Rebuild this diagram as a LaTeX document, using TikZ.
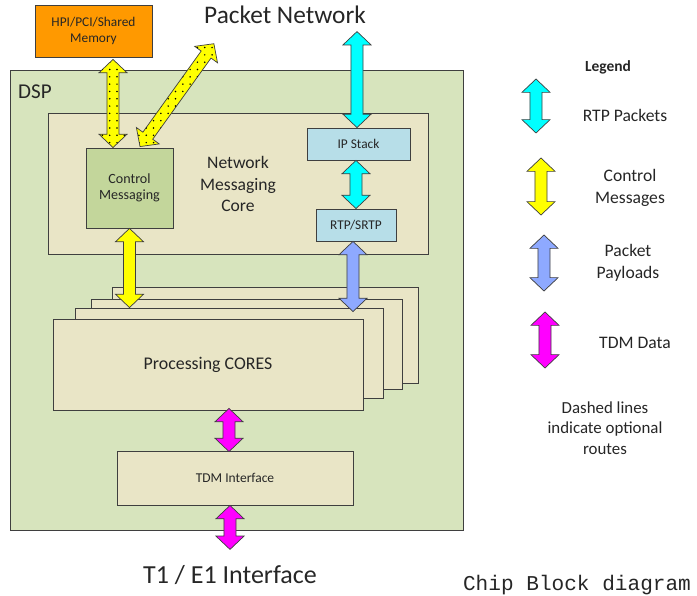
\documentclass[tikz,border=0pt]{standalone}
\usepackage{fontspec}
\setmainfont{Carlito}
\setmonofont{Liberation Mono}
\usetikzlibrary{calc, patterns.meta}

\definecolor{dspgreen}{HTML}{D7E4BD}
\definecolor{coretan}{HTML}{E9E5C6}
\definecolor{ctrlgreen}{HTML}{C3D69B}
\definecolor{stackblue}{HTML}{B7DEE8}
\definecolor{hostorange}{HTML}{FF9900}
\definecolor{rtpcyan}{HTML}{00FFFF}
\definecolor{ctlyellow}{HTML}{FFFF00}
\definecolor{payblue}{HTML}{8EA9FF}
\definecolor{tdmpink}{HTML}{FF00FF}
\definecolor{edgegray}{HTML}{3F3F3F}

\newcommand{\arrowhw}{10pt}
\newcommand{\arrowsw}{4.3pt}
\newcommand{\arrowhl}{9.5pt}

% fat two-headed arrow from #2 to #3
\newcommand{\fatarrow}[3][]{%
    \draw [fatline, #1] let \p1 = #2, \p2 = #3,
        \n1 = {atan2(\y2 - \y1, \x2 - \x1)}, \n2 = {veclen(\x2 - \x1, \y2 - \y1)} in
        {[shift = {(\p1)}, rotate = \n1]
        (0, 0) -- (\arrowhl, \arrowhw) -- (\arrowhl, \arrowsw) -- (\n2 - \arrowhl, \arrowsw)
        -- (\n2 - \arrowhl, \arrowhw) -- (\n2, 0) -- (\n2 - \arrowhl, -\arrowhw)
        -- (\n2 - \arrowhl, -\arrowsw) -- (\arrowhl, -\arrowsw) -- (\arrowhl, -\arrowhw) -- cycle};%
}

\tikzset{
    block/.style = {draw = edgegray, line width = 0.6pt, inner sep = 0pt, align = center, text = black!85},
    txt/.style = {inner sep = 0pt, align = center, text = black!85},
    fatline/.style = {draw = edgegray, line width = 0.5pt},
    rtpflow/.style = {fatline, fill = rtpcyan},
    ctlflow/.style = {fatline, fill = ctlyellow},
    optflow/.style = {ctlflow, postaction = {pattern = {Dots[distance = 5.2pt, radius = 0.6pt]}}},
    payflow/.style = {fatline, fill = payblue},
    tdmflow/.style = {fatline, fill = tdmpink}
}

\begin{document}
\begin{tikzpicture}[x = 0.025cm, y = -0.025cm]
    \useasboundingbox (0, 0) rectangle (697, 596);

    % chip
    \node (dsp) at (236.5, 300) [block, fill = dspgreen, minimum width = 11.325cm, minimum height = 11.5cm] {};
    \node (dsplabel) at (35, 92) [txt, font = \fontsize{15}{18}\selectfont] {DSP};
    \node (hpi) at (93.5, 31) [block, fill = hostorange, minimum width = 2.925cm, minimum height = 1.3cm,
        font = \fontsize{9.5}{11.5}\selectfont] {HPI/PCI/Shared\\Memory};

    \node (nmc) at (238, 183.5) [block, fill = coretan, minimum width = 9.5cm, minimum height = 3.525cm] {};
    \node (nmclabel) at (238, 184) [txt, font = \fontsize{12.5}{15.5}\selectfont] {Network\\Messaging\\Core};
    \node (ctrl) at (129.5, 188) [block, fill = ctrlgreen, minimum width = 2.175cm, minimum height = 2cm,
        font = \fontsize{10}{11.5}\selectfont] {Control\\Messaging};
    \node (ipstack) at (358.5, 144) [block, fill = stackblue, minimum width = 2.575cm, minimum height = 0.8cm,
        font = \fontsize{9.5}{11.5}\selectfont] {IP Stack};
    \node (rtp) at (356, 225) [block, fill = stackblue, minimum width = 2cm, minimum height = 0.8cm,
        font = \fontsize{9.5}{11.5}\selectfont] {RTP/SRTP};

    % stacked cores
    \node (core3) at (265, 335) [block, fill = coretan, minimum width = 7.65cm, minimum height = 2.4cm] {};
    \node (core2) at (246.5, 344) [block, fill = coretan, minimum width = 7.775cm, minimum height = 2.25cm] {};
    \node (core1) at (229, 353) [block, fill = coretan, minimum width = 7.7cm, minimum height = 2.25cm] {};
    \node (cores) at (208, 364.5) [block, fill = coretan, minimum width = 7.75cm, minimum height = 2.275cm,
        font = \fontsize{12.7}{15}\selectfont] {Processing CORES};
    \node (tdm) at (235, 478) [block, fill = coretan, minimum width = 5.9cm, minimum height = 1.35cm,
        font = \fontsize{9.6}{11.5}\selectfont] {TDM Interface};

    \node (pnet) at (285, 15) [txt, font = \fontsize{18}{21}\selectfont] {Packet Network};
    \node (t1e1) at (230, 575) [txt, font = \fontsize{18.5}{22}\selectfont] {T1 / E1 Interface};
    \node (title) at (577, 585) [txt, font = \ttfamily\fontsize{15}{18}\selectfont] {Chip Block diagram};

    % legend
    \node (legend) at (608, 67) [txt, font = \bfseries\fontsize{11}{13}\selectfont] {Legend};
    \node (lgrtp) at (625, 115) [txt, font = \fontsize{12.5}{15.5}\selectfont] {RTP Packets};
    \node (lgctl) at (630, 188) [txt, font = \fontsize{12.5}{15.5}\selectfont] {Control\\Messages};
    \node (lgpay) at (628, 263) [txt, font = \fontsize{12.5}{15.5}\selectfont] {Packet\\Payloads};
    \node (lgtdm) at (635, 343) [txt, font = \fontsize{12.5}{15.5}\selectfont] {TDM Data};
    \node (lgnote) at (605, 428) [txt, font = \fontsize{12}{14.6}\selectfont] {Dashed lines\\indicate optional\\routes};

    % flows
    \fatarrow[optflow]{($(hpi.south) + (19.5, 2)$)}{($(ctrl.north) + (-16.5, 0)$)}
    \fatarrow[optflow]{($(ctrl.north) + (10.5, -1)$)}{($(ctrl.north) + (84.5, -104)$)}
    \fatarrow[rtpflow]{($(ipstack.north) + (-1.5, -96)$)}{($(ipstack.north) + (-1.5, 0)$)}
    \fatarrow[rtpflow]{(rtp.north |- ipstack.south)}{(rtp.north)}
    \fatarrow[ctlflow]{(ctrl.south)}{(ctrl.south |- core1.north)}
    \fatarrow[payflow]{($(rtp.south) + (-3, 0)$)}{($(rtp.south |- core1.north) + (-3, 4)$)}
    \fatarrow[tdmflow]{($(tdm.north |- cores.south) + (-6, -2)$)}{($(tdm.north) + (-6, 1)$)}
    \fatarrow[tdmflow]{($(tdm.south) + (-5, 0)$)}{($(tdm.south) + (-5, 44)$)}

    \fatarrow[rtpflow]{($(lgrtp) + (-89, -36)$)}{($(lgrtp) + (-89, 18)$)}
    \fatarrow[ctlflow]{($(lgctl) + (-89, -30)$)}{($(lgctl) + (-89, 27)$)}
    \fatarrow[payflow]{($(lgpay) + (-84, -28)$)}{($(lgpay) + (-84, 28)$)}
    \fatarrow[tdmflow]{($(lgtdm) + (-90, -31)$)}{($(lgtdm) + (-90, 25)$)}
\end{tikzpicture}
\end{document}
